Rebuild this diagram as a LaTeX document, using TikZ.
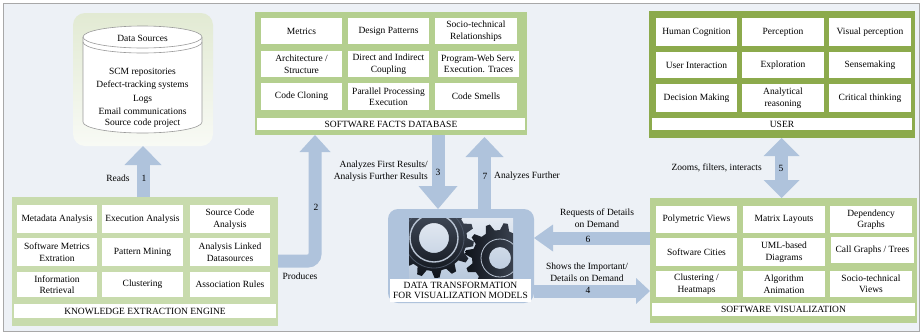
\documentclass[tikz,border=0pt]{standalone}
\usepackage{fontspec}
\setmainfont{Liberation Serif}
\usetikzlibrary{arrows.meta}

\definecolor{bg}{HTML}{EDF1F6}
\definecolor{bordergray}{HTML}{A8A8A8}
\definecolor{arrowblue}{HTML}{AFC3DC}
\definecolor{dbgreen}{HTML}{B4CF8F}
\definecolor{keegreen}{HTML}{C8DBAD}
\definecolor{usergreen}{HTML}{8CAA4C}
\definecolor{svgreen}{HTML}{B9D193}
\definecolor{dstop}{HTML}{E2EAD3}
\definecolor{dsbottom}{HTML}{F8FAF5}
\definecolor{cylline}{HTML}{9A9A9A}
\definecolor{geardark}{HTML}{0F131A}
\definecolor{gearmid}{HTML}{4C5666}
\definecolor{gearlight}{HTML}{B9C4D3}
\definecolor{gearbgtop}{HTML}{E4EAF2}
\definecolor{gearbgbot}{HTML}{B9C9DD}

\newcommand\boxfont{\fontsize{9.5}{11.5}\selectfont}
\newcommand\capfont{\fontsize{9.5}{10}\selectfont}

\tikzset{
  cell/.style={fill=white, align=center, inner sep=0.5pt, outer sep=0pt, font=\boxfont},
  panel/.style={inner sep=0pt, outer sep=0pt},
  lbl/.style={font=\boxfont, inner sep=0pt, align=center},
  flow/.style={draw=arrowblue, line width=13pt},
  flowtip/.style 2 args={flow, arrows={-{Triangle[width=#1, length=#2, line width=0pt]}}},
  flowboth/.style 2 args={flow, arrows={{Triangle[width=#1, length=#2, line width=0pt]}-{Triangle[width=#1, length=#2, line width=0pt]}}},
}

% white box with its corners given as x1 y1 x2 y2
\newcommand\cellbox[7][]{%
  \pgfmathsetmacro\bxc{(#3+#5)/2}%
  \pgfmathsetmacro\byc{(#4+#6)/2}%
  \pgfmathsetmacro\bxw{#5-#3}%
  \pgfmathsetmacro\byh{#6-#4}%
  \node[cell, minimum width=\bxw pt, minimum height=\byh pt, #1] (#2) at (\bxc,\byc) {#7};}

% coloured panel with its corners given as x1 y1 x2 y2
\newcommand\panelbox[6]{%
  \pgfmathsetmacro\bxc{(#2+#4)/2}%
  \pgfmathsetmacro\byc{(#3+#5)/2}%
  \pgfmathsetmacro\bxw{#4-#2}%
  \pgfmathsetmacro\byh{#5-#3}%
  \node[panel, fill=#6, minimum width=\bxw pt, minimum height=\byh pt] (#1) at (\bxc,\byc) {};}

\begin{document}
\begin{tikzpicture}[x=1pt, y=-1pt]
  \useasboundingbox (0,0) rectangle (923,335);
  \fill[white] (0,0) rectangle (923,335);
  \filldraw[fill=bg, draw=bordergray, line width=0.8pt] (3.5,3.5) rectangle (919,331.5);

  % ---------- data sources ----------
  \node[panel, rounded corners=12pt, top color=dstop, bottom color=dsbottom,
        minimum width=140pt, minimum height=133pt] (dsp) at (143,79.5) {};
  \fill[white] (83,37) -- (83,122) arc[start angle=180, end angle=360, x radius=59.5pt, y radius=11pt] -- (202,37) -- cycle;
  \draw[cylline, line width=0.6pt] (83,37) -- (83,122) arc[start angle=180, end angle=360, x radius=59.5pt, y radius=11pt] -- (202,37);
  \filldraw[fill=white, draw=cylline, line width=0.6pt] (142.5,37) ellipse [x radius=59.5pt, y radius=11pt];
  \draw[cylline, line width=0.6pt] (83,42) arc[start angle=180, end angle=360, x radius=59.5pt, y radius=11pt];
  \node[lbl] (dstitle) at (142.5,38) {Data Sources};
  \node[lbl] (scm) at (142.5,72) {SCM repositories};
  \node[lbl] (defect) at (142.5,85) {Defect-tracking systems};
  \node[lbl] (logs) at (142.5,99) {Logs};
  \node[lbl] (email) at (142.5,111) {Email communications};
  \node[lbl] (srcproj) at (142.5,123) {Source code project};

  % ---------- software facts database ----------
  \panelbox{db}{255}{12}{527}{135}{dbgreen}
  \cellbox{metrics}{261}{18}{342}{44}{Metrics}
  \cellbox{design}{348}{18}{429}{44}{Design Patterns}
  \cellbox{socio}{435}{18}{517}{44}{Socio-technical\\Relationships}
  \cellbox{arch}{261}{51}{342}{77}{Architecture /\\Structure}
  \cellbox{direct}{348}{51}{429}{77}{Direct and Indirect\\Coupling}
  \cellbox{program}{438}{51}{519}{77}{Program-Web Serv.\\Execution. Traces}
  \cellbox{cloning}{261}{83}{342}{110}{Code Cloning}
  \cellbox{parallel}{348}{83}{429}{110}{Parallel Processing\\Execution}
  \cellbox{smells}{435}{83}{517}{110}{Code Smells}
  \cellbox{dbtitle}{257}{118}{525}{130}{SOFTWARE FACTS DATABASE}

  % ---------- user ----------
  \panelbox{user}{649}{11}{915}{138}{usergreen}
  \cellbox{cognition}{656}{18}{737}{46}{Human Cognition}
  \cellbox{perception}{742}{18}{824}{46}{Perception}
  \cellbox{visual}{829}{18}{911}{46}{Visual perception}
  \cellbox{interaction}{656}{52}{737}{78}{User Interaction}
  \cellbox{exploration}{742}{52}{824}{78}{Exploration}
  \cellbox{sense}{829}{52}{911}{78}{Sensemaking}
  \cellbox{decision}{656}{84}{737}{112}{Decision Making}
  \cellbox{analytical}{742}{84}{824}{112}{Analytical\\reasoning}
  \cellbox{critical}{829}{84}{911}{112}{Critical thinking}
  \cellbox{usertitle}{652}{118}{912}{130}{USER}

  % ---------- knowledge extraction engine ----------
  \panelbox{kee}{12}{197}{278}{326}{keegreen}
  \cellbox{metadata}{17}{205}{97}{233}{Metadata Analysis}
  \cellbox{execution}{102}{205}{183}{233}{Execution Analysis}
  \cellbox{srccode}{190}{205}{270}{233}{Source Code\\Analysis}
  \cellbox{swmetrics}{17}{238}{97}{266}{Software Metrics\\Extration}
  \cellbox{pattern}{102}{238}{183}{266}{Pattern Mining}
  \cellbox{linked}{190}{238}{270}{266}{Analysis Linked\\Datasources}
  \cellbox{retrieval}{17}{272}{97}{297}{Information\\Retrieval}
  \cellbox{clustering}{102}{272}{183}{297}{Clustering}
  \cellbox{association}{190}{272}{270}{297}{Association Rules}
  \cellbox{keetitle}{14}{304}{276}{318}{KNOWLEDGE EXTRACTION ENGINE}

  % ---------- software visualization ----------
  \panelbox{sv}{650}{198}{917}{323}{svgreen}
  \cellbox{polymetric}{656}{206}{737}{233}{Polymetric Views}
  \cellbox{matrix}{743}{206}{825}{233}{Matrix Layouts}
  \cellbox{dependency}{830}{206}{912}{233}{Dependency\\Graphs}
  \cellbox{cities}{656}{238}{737}{266}{Software Cities}
  \cellbox{uml}{743}{238}{825}{266}{UML-based\\Diagrams}
  \cellbox{callgraphs}{831}{237}{914}{263}{Call Graphs / Trees}
  \cellbox{heatmaps}{656}{271}{737}{297}{Clustering /\\Heatmaps}
  \cellbox{animation}{743}{271}{825}{297}{Algorithm\\Animation}
  \cellbox{sociov}{830}{271}{912}{297}{Socio-technical\\Views}
  \cellbox{svtitle}{652}{303}{915}{316}{SOFTWARE VISUALIZATION}

  % ---------- data transformation ----------
  \node[panel, fill=arrowblue, rounded corners=10pt, minimum width=146pt, minimum height=94pt] (dt) at (461,256) {};
  \begin{scope}
    \clip (409,218) rectangle (513,278);
    \shade[top color=gearbgtop, bottom color=gearbgbot] (409,218) rectangle (513,278);
    % right gear
    \begin{scope}[shift={(500,258)}]
      \shade[even odd rule, left color=geardark, right color=gearmid]
        (0:28) foreach \i in {0,...,11} { -- ({\i*30+6}:35) -- ({\i*30+13}:35) -- ({\i*30+19}:28) -- ({\i*30+30}:28) } -- cycle
        (0,0) circle (11pt);
      \draw[gearlight, line width=0.8pt] (0,0) circle (19pt);
    \end{scope}
    % left gear
    \begin{scope}[shift={(434,238)}]
      \shade[even odd rule, top color=gearmid, bottom color=geardark]
        (0:33) foreach \i in {0,...,13} { -- ({\i*360/14+5}:40) -- ({\i*360/14+12}:40) -- ({\i*360/14+17}:33) -- ({(\i+1)*360/14}:33) } -- cycle
        (0,0) circle (15pt);
      \draw[gearlight, line width=1.4pt] (0,0) circle (24pt);
      \draw[gearmid, line width=0.8pt] (0,0) circle (30pt);
    \end{scope}
  \end{scope}
  \cellbox[font=\capfont, inner sep=0pt]{dttitle}{390}{279}{531}{302}{DATA TRANSFORMATION\\FOR VISUALIZATION MODELS}

  % ---------- flows ----------
  \coordinate (bend2) at (315,261);
  \coordinate (x3) at (438,0);
  \coordinate (x7) at (484.5,0);
  \coordinate (y6) at (0,238);
  \coordinate (y4) at (0,291);
  \coordinate (x5) at (781.5,0);

  \draw[flowtip={37pt}{19pt}] (kee.north -| dsp.south) -- (dsp.south);
  \draw[flowtip={31pt}{17pt}, rounded corners=7pt] (kee.east |- bend2) -- (bend2) -- (bend2 |- db.south);
  \draw[flowtip={39pt}{23pt}] (x3 |- db.south) -- (x3 |- dt.north);
  \draw[flowtip={38pt}{20pt}] (x7 |- dt.north) -- ([yshift=-2pt]x7 |- db.south);
  \draw[flowtip={27pt}{19pt}] (sv.west |- y6) -- (dt.east |- y6);
  \draw[flowtip={26pt}{14pt}] (dt.east |- y4) -- (sv.west |- y4);
  \draw[flowboth={36pt}{18pt}] (x5 |- user.south) -- (x5 |- sv.north);

  % ---------- flow labels ----------
  \node[lbl] (reads) at (118,178) {Reads};
  \node[lbl] (n1) at (144,178) {1};
  \node[lbl] (n2) at (316,207) {2};
  \node[lbl] (produces) at (300,276) {Produces};
  \node[lbl, anchor=east, align=right] (analyzes) at (428,171) {Analyzes First Results/\\Analysis Further Results};
  \node[lbl] (n3) at (438,172) {3};
  \node[lbl] (n7) at (485,176) {7};
  \node[lbl, anchor=west] (further) at (494,176) {Analyzes Further};
  \node[lbl] (requests) at (597,218) {Requests of Details\\on Demand};
  \node[lbl] (n6) at (588,239) {6};
  \node[lbl] (shows) at (587,272) {Shows the Important/\\Details on Demand};
  \node[lbl] (n4) at (588,290) {4};
  \node[lbl, anchor=east] (zooms) at (762,168) {Zooms, filters, interacts};
  \node[lbl] (n5) at (781,168) {5};
\end{tikzpicture}
\end{document}
